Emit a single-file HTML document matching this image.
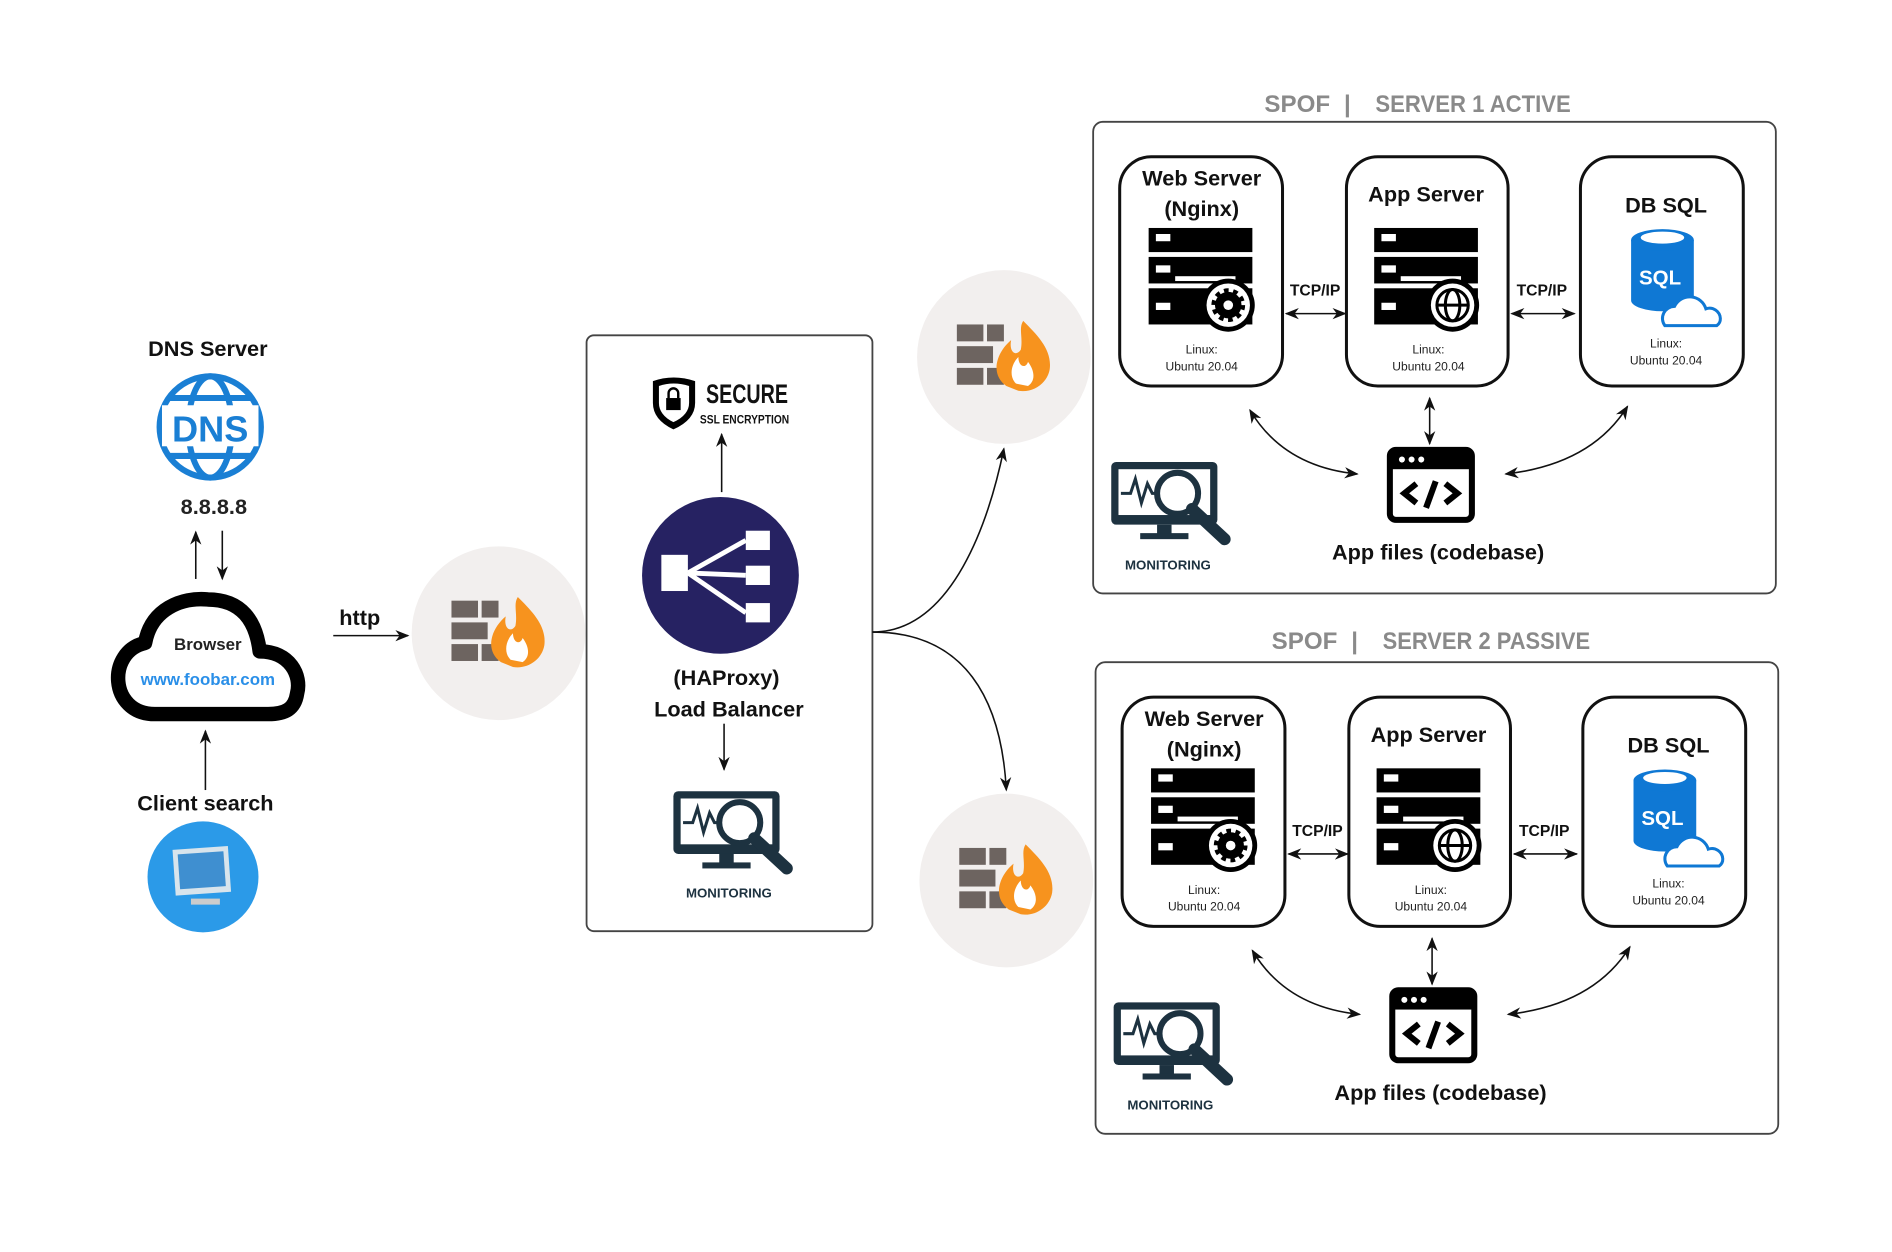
<!DOCTYPE html>
<html><head><meta charset="utf-8"><style>
html,body{margin:0;padding:0;background:#fff;}
svg{display:block;}
text{font-family:"Liberation Sans",sans-serif;}
</style></head><body>
<svg width="1892" height="1252" viewBox="0 0 1568 1038" xmlns="http://www.w3.org/2000/svg">
<defs>
<marker id="ar" viewBox="0 0 10 10" refX="9" refY="5" markerWidth="9" markerHeight="9" orient="auto-start-reverse"><path d="M0,1 L10,5 L0,9 L3,5 z" fill="#111"/></marker>
<g id="fw">
  <circle cx="0" cy="0" r="72" fill="#f2efee"/>
  <g fill="#6d6460">
    <rect x="-39" y="-27" width="22" height="14"/><rect x="-14" y="-27" width="14" height="14"/>
    <rect x="-39" y="-9" width="30" height="14"/>
    <rect x="-39" y="9" width="22" height="14"/><rect x="-14" y="9" width="14" height="14"/>
  </g>
  <path d="M2,24 C-12,14 -6,-4 6,-14 C4,-4 10,0 14,-6 C16,-16 12,-24 16,-30 C28,-18 40,-6 38,10 C36,22 24,30 12,28 Z" fill="#f7931e"/>
  <path d="M10,22 C4,16 6,6 12,0 C12,8 18,10 20,4 C26,12 26,20 20,24 Z" fill="#fff"/>
</g>
<g id="srv">
  <rect x="0" y="0" width="86" height="20" fill="#000"/>
  <rect x="0" y="24" width="86" height="22" fill="#000"/>
  <rect x="0" y="50" width="86" height="30" fill="#000"/>
  <rect x="6" y="5" width="12" height="6" fill="#fff"/>
  <rect x="6" y="31" width="12" height="6" fill="#fff"/>
  <rect x="6" y="62" width="12" height="6" fill="#fff"/>
  <rect x="22" y="40" width="50" height="4" fill="#fff"/>
</g>
<g id="mon">
  <rect x="0" y="0" width="88" height="52" rx="4" fill="#1d3240"/>
  <rect x="6" y="6" width="76" height="38" fill="#fff"/>
  <rect x="38" y="52" width="12" height="8" fill="#1d3240"/>
  <rect x="24" y="59" width="40" height="5" fill="#1d3240"/>
  <polyline points="8,26 16,26 20,14 25,34 30,18 34,26 40,26" fill="none" stroke="#1d3240" stroke-width="2.5"/>
  <circle cx="55" cy="26" r="17" fill="#fff" stroke="#1d3240" stroke-width="5"/>
  <line x1="67" y1="39" x2="94" y2="64" stroke="#1d3240" stroke-width="10" stroke-linecap="round"/>
</g>
<g id="code">
  <rect x="2" y="2" width="68" height="58" rx="5" fill="#fff" stroke="#000" stroke-width="5"/>
  <rect x="2" y="2" width="68" height="16" fill="#000"/>
  <circle cx="12" cy="10" r="2.5" fill="#fff"/><circle cx="20" cy="10" r="2.5" fill="#fff"/><circle cx="28" cy="10" r="2.5" fill="#fff"/>
  <polyline points="24,30 14,38 24,46" fill="none" stroke="#000" stroke-width="5"/>
  <polyline points="48,30 58,38 48,46" fill="none" stroke="#000" stroke-width="5"/>
  <line x1="40" y1="28" x2="32" y2="50" stroke="#000" stroke-width="5"/>
</g>
<g id="server">
  <rect x="0" y="0" width="566" height="391" rx="8" fill="none" stroke="#444" stroke-width="1.5"/>
  <rect x="22" y="29" width="135" height="190" rx="26" fill="#fff" stroke="#111" stroke-width="2.5"/>
  <rect x="210" y="29" width="134" height="190" rx="26" fill="#fff" stroke="#111" stroke-width="2.5"/>
  <rect x="404" y="29" width="135" height="190" rx="26" fill="#fff" stroke="#111" stroke-width="2.5"/>
  <text x="90" y="53" font-size="18" font-weight="bold" text-anchor="middle" fill="#111">Web Server</text>
  <text x="90" y="78" font-size="18" font-weight="bold" text-anchor="middle" fill="#111">(Nginx)</text>
  <text x="276" y="66" font-size="18" font-weight="bold" text-anchor="middle" fill="#111">App Server</text>
  <text x="475" y="75" font-size="18" font-weight="bold" text-anchor="middle" fill="#111">DB SQL</text>
  <use href="#srv" x="46" y="88"/>
  <circle cx="112" cy="152" r="22" fill="#000"/>
  <circle cx="112" cy="152" r="18" fill="#fff"/>
  <circle cx="112" cy="152" r="11" fill="#000" stroke="#000" stroke-width="6" stroke-dasharray="3.5 3.4"/>
  <circle cx="112" cy="152" r="4" fill="#fff"/>
  <use href="#srv" x="233" y="88"/>
  <circle cx="298" cy="152" r="22" fill="#000"/>
  <circle cx="298" cy="152" r="18" fill="#fff"/>
  <circle cx="298" cy="152" r="13" fill="none" stroke="#000" stroke-width="2.5"/>
  <ellipse cx="298" cy="152" rx="6" ry="13" fill="none" stroke="#000" stroke-width="2.5"/>
  <line x1="285" y1="152" x2="311" y2="152" stroke="#000" stroke-width="2.5"/>
  <path d="M446,98 v50 a26,9 0 0 0 52,0 v-50 z" fill="#0f78d4"/>
  <ellipse cx="472" cy="98" rx="26" ry="9" fill="#0f78d4"/>
  <ellipse cx="472" cy="96" rx="18" ry="5" fill="#fff"/>
  <text x="470" y="135" font-size="17" font-weight="bold" fill="#fff" text-anchor="middle">SQL</text>
  <path d="M474,169 a10,10 0 0 1 8,-16 a14,14 0 0 1 26,2 a9,9 0 0 1 12,8 a7,7 0 0 1 -3,6 z" fill="#fff" stroke="#0f78d4" stroke-width="2.5"/>
  <text x="90" y="192" font-size="10" text-anchor="middle" fill="#222">Linux:</text>
  <text x="90" y="206" font-size="10" text-anchor="middle" fill="#222">Ubuntu 20.04</text>
  <text x="278" y="192" font-size="10" text-anchor="middle" fill="#222">Linux:</text>
  <text x="278" y="206" font-size="10" text-anchor="middle" fill="#222">Ubuntu 20.04</text>
  <text x="475" y="187" font-size="10" text-anchor="middle" fill="#222">Linux:</text>
  <text x="475" y="201" font-size="10" text-anchor="middle" fill="#222">Ubuntu 20.04</text>
  <text x="184" y="144" font-size="13" font-weight="bold" text-anchor="middle" fill="#111">TCP/IP</text>
  <text x="372" y="144" font-size="13" font-weight="bold" text-anchor="middle" fill="#111">TCP/IP</text>
  <line x1="160" y1="159" x2="209" y2="159" stroke="#111" stroke-width="1.3" marker-start="url(#ar)" marker-end="url(#ar)"/>
  <line x1="347" y1="159" x2="399" y2="159" stroke="#111" stroke-width="1.3" marker-start="url(#ar)" marker-end="url(#ar)"/>
  <line x1="279" y1="229" x2="279" y2="267" stroke="#111" stroke-width="1.3" marker-start="url(#ar)" marker-end="url(#ar)"/>
  <path d="M130,239 Q158,286 219,292" fill="none" stroke="#111" stroke-width="1.3" marker-start="url(#ar)" marker-end="url(#ar)"/>
  <path d="M443,236 Q413,284 342,292" fill="none" stroke="#111" stroke-width="1.3" marker-start="url(#ar)" marker-end="url(#ar)"/>
  <use href="#code" x="244" y="270"/>
  <text x="286" y="363" font-size="18" font-weight="bold" text-anchor="middle" fill="#111">App files (codebase)</text>
  <use href="#mon" x="15" y="282"/>
  <text x="62" y="371" font-size="11" font-weight="bold" text-anchor="middle" fill="#1d3240">MONITORING</text>
</g>
</defs>

<text x="172" y="295" font-size="18" font-weight="bold" text-anchor="middle" fill="#111">DNS Server</text>
<g stroke="#1a7fd4" stroke-width="5" fill="none">
  <circle cx="174" cy="354" r="42"/>
  <ellipse cx="174" cy="354" rx="18" ry="42"/>
  <path d="M140,330 H208 M140,378 H208"/>
</g>
<rect x="134" y="336" width="80" height="34" fill="#fff"/>
<text x="174" y="366" font-size="30" font-weight="bold" text-anchor="middle" fill="#1a7fd4">DNS</text>
<text x="177" y="426" font-size="18" font-weight="bold" text-anchor="middle" fill="#222">8.8.8.8</text>
<line x1="162" y1="480" x2="162" y2="441" stroke="#111" stroke-width="1.3" marker-end="url(#ar)"/>
<line x1="184" y1="440" x2="184" y2="480" stroke="#111" stroke-width="1.3" marker-end="url(#ar)"/>
<path d="M128,592 C90,592 88,540 120,533 C125,505 150,495 172,497 C200,497 212,515 215,540 C240,540 250,560 246,575 C244,588 236,592 222,592 Z" fill="#fff" stroke="#000" stroke-width="12" stroke-linejoin="round"/>
<text x="172" y="539" font-size="14" font-weight="bold" text-anchor="middle" fill="#222">Browser</text>
<text x="172" y="568" font-size="14" font-weight="bold" text-anchor="middle" fill="#2a8fe8">www.foobar.com</text>
<line x1="170" y1="655" x2="170" y2="606" stroke="#111" stroke-width="1.3" marker-end="url(#ar)"/>
<text x="170" y="672" font-size="18" font-weight="bold" text-anchor="middle" fill="#111">Client search</text>
<circle cx="168" cy="727" r="46" fill="#2b9ae8"/>
<rect x="144" y="703" width="46" height="38" fill="#d8e4ec" transform="rotate(-4 167 722)"/>
<rect x="148" y="707" width="38" height="29" fill="#3f8fd0" transform="rotate(-4 167 722)"/>
<rect x="158" y="745" width="24" height="5" fill="#ccc"/>
<text x="298" y="518" font-size="18" font-weight="bold" text-anchor="middle" fill="#111">http</text>
<line x1="276" y1="527" x2="338" y2="527" stroke="#111" stroke-width="1.3" marker-end="url(#ar)"/>
<use href="#fw" x="413" y="525"/>

<rect x="486" y="278" width="237" height="494" rx="6" fill="none" stroke="#444" stroke-width="1.5"/>
<path d="M541,316 Q558,310 576,316 L576,334 Q576,348 558,356 Q541,348 541,334 Z" fill="#000"/>
<path d="M546,320 Q558,316 571,320 L571,334 Q571,344 558,350 Q546,344 546,334 Z" fill="#fff"/>
<rect x="552" y="330" width="12" height="10" fill="#000"/>
<path d="M554,330 v-4 a4,4 0 0 1 8,0 v4" fill="none" stroke="#000" stroke-width="2"/>
<text x="585" y="334" font-size="22" font-weight="bold" fill="#111" textLength="68" lengthAdjust="spacingAndGlyphs">SECURE</text>
<text x="580" y="351" font-size="10" font-weight="bold" fill="#111" textLength="74" lengthAdjust="spacingAndGlyphs">SSL ENCRYPTION</text>
<line x1="598" y1="408" x2="598" y2="360" stroke="#111" stroke-width="1.3" marker-end="url(#ar)"/>
<circle cx="597" cy="477" r="65" fill="#262262"/>
<g fill="#fff">
  <rect x="548" y="460" width="22" height="30"/>
  <rect x="618" y="440" width="20" height="16"/>
  <rect x="618" y="469" width="20" height="16"/>
  <rect x="618" y="500" width="20" height="16"/>
</g>
<g stroke="#fff" stroke-width="4"><line x1="570" y1="475" x2="618" y2="448"/><line x1="570" y1="475" x2="618" y2="477"/><line x1="570" y1="475" x2="618" y2="508"/></g>
<text x="602" y="568" font-size="18" font-weight="bold" text-anchor="middle" fill="#111">(HAProxy)</text>
<text x="604" y="594" font-size="18" font-weight="bold" text-anchor="middle" fill="#111">Load Balancer</text>
<line x1="600" y1="600" x2="600" y2="638" stroke="#111" stroke-width="1.3" marker-end="url(#ar)"/>
<use href="#mon" x="558" y="656"/>
<text x="604" y="744" font-size="11" font-weight="bold" text-anchor="middle" fill="#1d3240">MONITORING</text>

<path d="M723,524 C790,524 820,430 832,372" fill="none" stroke="#111" stroke-width="1.3" marker-end="url(#ar)"/>
<path d="M723,524 C800,524 830,580 834,655" fill="none" stroke="#111" stroke-width="1.3" marker-end="url(#ar)"/>
<use href="#fw" x="832" y="296"/>
<use href="#fw" x="834" y="730"/>

<g font-size="20" font-weight="bold" fill="#8a8a8a">
<text x="1048" y="93">SPOF</text><text x="1114" y="93">|</text><text x="1140" y="93" textLength="162" lengthAdjust="spacingAndGlyphs">SERVER 1 ACTIVE</text>
<text x="1054" y="538">SPOF</text><text x="1120" y="538">|</text><text x="1146" y="538" textLength="172" lengthAdjust="spacingAndGlyphs">SERVER 2 PASSIVE</text>
</g>
<use href="#server" x="906" y="101"/>
<use href="#server" x="908" y="549"/>
</svg>
</body></html>
